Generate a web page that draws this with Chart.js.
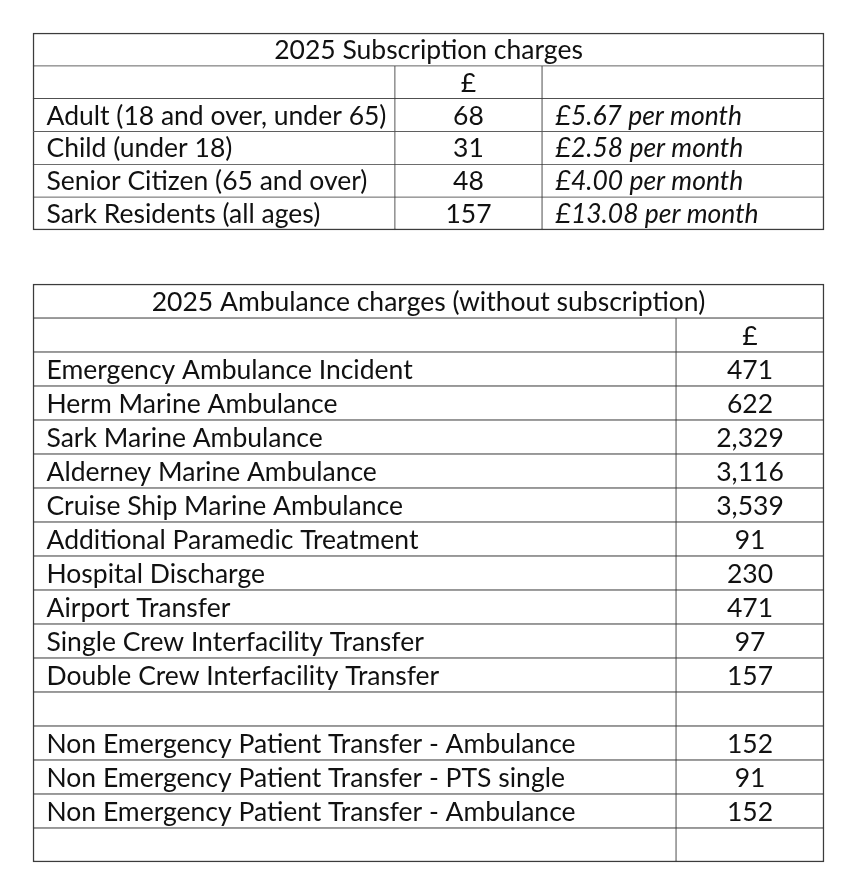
<!DOCTYPE html>
<html>
<head>
<meta charset="utf-8">
<title>2025 Subscription and Ambulance charges</title>
<script src="https://cdn.jsdelivr.net/npm/chart.js@4.4.1/dist/chart.umd.min.js"></script>
<style>
  body { margin: 0; background: #fff; }
  .wrap { position: absolute; left: 0; width: 850px; }
  #subWrap { top: 0; height: 260px; }
  #ambWrap { top: 260px; height: 620px; }
</style>
</head>
<body>
<div class="wrap" id="subWrap"><canvas id="subTable"></canvas></div>
<div class="wrap" id="ambWrap"><canvas id="ambTable"></canvas></div>
<script>
// table data
const currencyHeader = '£';

const subTitle = '2025 Subscription charges';
const subCategories = [
    'Adult (18 and over, under 65)',
    'Child (under 18)',
    'Senior Citizen (65 and over)',
    'Sark Residents (all ages)'
];
const subCharges = [68, 31, 48, 157];
const subMonthly = [5.67, 2.58, 4.00, 13.08];

const ambTitle = '2025 Ambulance charges (without subscription)';
const ambCategories = [
    'Emergency Ambulance Incident',
    'Herm Marine Ambulance',
    'Sark Marine Ambulance',
    'Alderney Marine Ambulance',
    'Cruise Ship Marine Ambulance',
    'Additional Paramedic Treatment',
    'Hospital Discharge',
    'Airport Transfer',
    'Single Crew Interfacility Transfer',
    'Double Crew Interfacility Transfer',
    '',
    'Non Emergency Patient Transfer - Ambulance',
    'Non Emergency Patient Transfer - PTS single',
    'Non Emergency Patient Transfer - Ambulance',
    ''
];
const ambCharges = [471, 622, 2329, 3116, 3539, 91, 230, 471, 97, 157, null, 152, 91, 152, null];

// look
const LINE = '#3c3c3c';
const INK = '#111';
const FONT = 'Lato, "Open Sans", sans-serif';
const FONT_SIZE = 26.5;

const money = v => v.toLocaleString('en-GB');

// draws the cell text on top of each bar (cell)
const cellText = {
    id: 'cellText',
    afterDatasetsDraw(chart) {
        const ctx = chart.ctx;
        ctx.save();
        ctx.fillStyle = INK;
        ctx.textBaseline = 'middle';
        chart.data.datasets.forEach((ds, di) => {
            const meta = chart.getDatasetMeta(di);
            meta.data.forEach((bar, i) => {
                const txt = ds.cellText[i];
                if (ds.data[i] == null || txt == null || txt === '') return;
                const p = bar.getProps(['x', 'base', 'y'], true);
                const left = Math.min(p.x, p.base);
                const right = Math.max(p.x, p.base);
                ctx.font = (ds.italic && i > 1 ? 'italic ' : '') + FONT_SIZE + 'px ' + FONT;
                if (ds.align === 'left') {
                    ctx.textAlign = 'left';
                    ctx.fillText(txt, left + 13.5, p.y + 1);
                } else {
                    ctx.textAlign = 'center';
                    ctx.fillText(txt, (left + right) / 2, p.y + 1);
                }
            });
        });
        ctx.restore();
    }
};

function makeTable(canvasId, title, categories, columns, padding) {
    const rows = [title, currencyHeader].concat(categories);
    const last = rows.length - 1;

    const cellBorder = (ctx) => {
        const ds = ctx.dataset;
        const v = ds.data[ctx.dataIndex];
        if (!v) return 0;
        return {
            top: ctx.dataIndex === 0 ? 1.5 : 0.75,
            bottom: ctx.dataIndex === last ? 1.5 : 0.75,
            left: v[0] === 0 ? 1.5 : 0.75,
            right: v[1] === 1 ? 1.5 : 0.75
        };
    };

    const datasets = [{
        label: 'title',
        data: rows.map((r, i) => i === 0 ? [0, 1] : null),
        cellText: rows.map((r, i) => i === 0 ? title : null),
        align: 'center'
    }].concat(columns.map(col => ({
        label: col.label,
        data: rows.map((r, i) => i === 0 ? null : col.edges),
        cellText: [null].concat(col.texts),
        align: col.align,
        italic: col.italic
    })));

    datasets.forEach(ds => {
        ds.backgroundColor = '#fff';
        ds.borderColor = LINE;
        ds.borderWidth = cellBorder;
        ds.borderSkipped = false;
        ds.grouped = false;
        ds.barPercentage = 1;
        ds.categoryPercentage = 1;
        ds.clip = false;
    });

    return new Chart(document.getElementById(canvasId), {
        type: 'bar',
        data: { labels: rows, datasets },
        options: {
            indexAxis: 'y',
            responsive: true,
            maintainAspectRatio: false,
            animation: false,
            devicePixelRatio: 1,
            layout: { padding },
            plugins: { legend: { display: false }, tooltip: { enabled: false } },
            scales: {
                x: { type: 'linear', min: 0, max: 1, display: false },
                y: { type: 'category', display: false, offset: true }
            }
        },
        plugins: [cellText]
    });
}

makeTable('subTable', subTitle, subCategories, [
    { label: 'category', edges: [0, 0.4575], align: 'left',
      texts: [''].concat(subCategories) },
    { label: 'charge', edges: [0.4575, 0.6435], align: 'center',
      texts: [currencyHeader].concat(subCharges.map(money)) },
    { label: 'monthly', edges: [0.6435, 1], align: 'left', italic: true,
      texts: [''].concat(subMonthly.map(v => '£' + v.toFixed(2) + ' per month')) }
], { left: 33, right: 26, top: 33, bottom: 30 });

makeTable('ambTable', ambTitle, ambCategories, [
    { label: 'service', edges: [0, 0.8129], align: 'left',
      texts: [''].concat(ambCategories) },
    { label: 'charge', edges: [0.8129, 1], align: 'center',
      texts: [currencyHeader].concat(ambCharges.map(v => v == null ? '' : money(v))) }
], { left: 33, right: 26, top: 24, bottom: 18 });
</script>
</body>
</html>
